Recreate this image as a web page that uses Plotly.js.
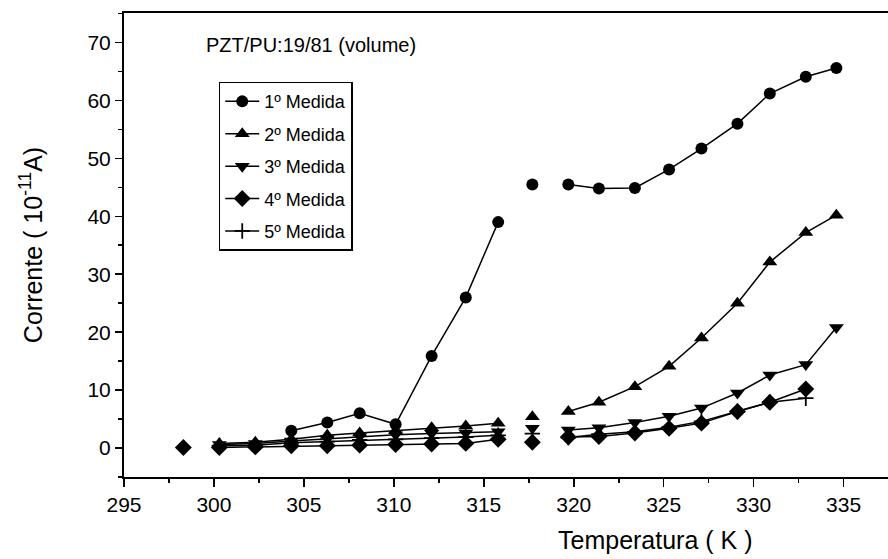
<!DOCTYPE html>
<html>
<head>
<meta charset="utf-8">
<script src="https://cdn.plot.ly/plotly-3.0.1.min.js"></script>
<style>
  html, body { margin: 0; padding: 0; background: #fff; overflow: hidden; }
  #chart { width: 888px; height: 559px; }
</style>
</head>
<body>
<div id="chart"></div>
<script>
// Temperature steps (K)
const temperatura = [298.3, 300.3, 302.3, 304.3, 306.3, 308.1, 310.1, 312.1, 314.0, 315.8,
                     317.7, 319.7, 321.4, 323.4, 325.3, 327.1, 329.1, 330.9, 332.9, 334.6];

// Current (10^-11 A) for each measurement run
const medida1 = [null, null, null, 3.0, 4.4, 6.0, 4.1, 15.9, 26.0, 39.0,
                 45.5, 45.5, 44.8, 44.9, 48.1, 51.7, 56.0, 61.2, 64.1, 65.6];
const medida2 = [null, 0.8, 1.0, 1.5, 2.2, 2.6, 3.0, 3.5, 3.8, 4.3,
                 5.4, 6.3, 7.9, 10.6, 14.1, 19.0, 25.0, 32.1, 37.2, 40.2];
const medida3 = [null, 0.6, 0.8, 1.2, 1.6, 2.0, 2.3, 2.5, 2.6, 2.8,
                 3.4, 3.1, 3.5, 4.4, 5.5, 6.9, 9.5, 12.6, 14.4, 20.8];
const medida4 = [0.1, 0.1, 0.2, 0.4, 0.4, 0.5, 0.6, 0.7, 0.8, 1.5,
                 1.0, 1.9, 2.0, 2.6, 3.4, 4.3, 6.3, 7.9, 10.2, null];
const medida5 = [null, 0.4, 0.5, 0.9, 1.1, 1.4, 1.5, 1.7, 1.9, 2.2,
                 2.5, 1.8, 2.4, 2.8, 3.6, 4.6, 6.3, 7.9, 8.6, null];

const nomes = ['1º Medida', '2º Medida', '3º Medida', '4º Medida', '5º Medida'];
const simbolos = ['circle', 'triangle-up', 'triangle-down', 'diamond', 'cross-thin'];

// Line segments are interrupted after these indices (lines not joined there)
const quebras = [[9, 10], [9, 10], [9, 10], [0, 9, 10], [9, 10]];

function segmentado(xs, ys, breaks) {
  const x = [], y = [];
  xs.forEach((v, i) => {
    x.push(v); y.push(ys[i]);
    if (breaks.includes(i)) { x.push(null); y.push(null); }
  });
  return { x, y };
}

const series = [medida1, medida2, medida3, medida4, medida5];
const traces = series.map((ys, k) => {
  const s = segmentado(temperatura, ys, quebras[k]);
  const isCross = simbolos[k] === 'cross-thin';
  return {
    type: 'scatter',
    mode: 'lines+markers',
    name: nomes[k],
    x: s.x, y: s.y,
    connectgaps: false,
    legendgroup: 'g' + k,
    line: { color: '#000', width: 1.5 },
    marker: {
      symbol: simbolos[k],
      size: isCross ? 11 : (k === 0 ? 12 : 13),
      color: '#000',
      line: { color: '#000', width: isCross ? 1.8 : 0 }
    },
    hoverinfo: 'x+y'
  };
});

const font = 'Liberation Sans, Arial, sans-serif';

const layout = {
  width: 888, height: 559,
  margin: { l: 124, r: 0, t: 13, b: 82 },
  paper_bgcolor: '#fff', plot_bgcolor: '#fff',
  showlegend: true,
  font: { family: font, color: '#000', size: 21 },
  xaxis: {
    range: [295, 337.47],
    tickmode: 'linear', tick0: 295, dtick: 5,
    ticks: 'outside', ticklen: 8, tickwidth: 1.6, tickcolor: '#000',
    minor: { dtick: 2.5, ticks: 'outside', ticklen: 4, tickwidth: 1.6, tickcolor: '#000' },
    showline: true, linecolor: '#000', linewidth: 2, mirror: true,
    showgrid: false, zeroline: false,
    tickfont: { family: font, size: 21, color: '#000' }
  },
  yaxis: {
    range: [-5, 75.1],
    tickmode: 'linear', tick0: 0, dtick: 10,
    ticks: 'outside', ticklen: 7, tickwidth: 1.6, tickcolor: '#000',
    minor: { dtick: 5, ticks: 'outside', ticklen: 4, tickwidth: 1.6, tickcolor: '#000' },
    showline: true, linecolor: '#000', linewidth: 2, mirror: false,
    showgrid: false, zeroline: false,
    tickfont: { family: font, size: 21, color: '#000' },
    title: { text: 'Corrente ( 10<sup>-11</sup>A)', font: { family: font, size: 25, color: '#000' }, standoff: 38 }
  },
  legend: {
    x: 0.124, y: 0.852, xanchor: 'left', yanchor: 'top',
    bgcolor: '#fff', bordercolor: '#000', borderwidth: 1.5,
    font: { family: 'Liberation Sans Narrow, Arial Narrow, ' + font, size: 18, color: '#000' },
    traceorder: 'grouped', tracegroupgap: 6,
    itemwidth: 34
  },
  annotations: [
    {
      text: 'PZT/PU:19/81 (volume)', xref: 'paper', yref: 'paper',
      x: (204 - 124) / 764, y: (477 - 45) / 464, xanchor: 'left', yanchor: 'middle',
      showarrow: false, font: { family: font, size: 20, color: '#000' }
    },
    {
      text: 'Temperatura ( K )', xref: 'paper', yref: 'paper',
      x: (655 - 124) / 764, y: -0.135, xanchor: 'center', yanchor: 'middle',
      showarrow: false, font: { family: font, size: 25, color: '#000' }
    }
  ]
};

Plotly.newPlot('chart', traces, layout, { displayModeBar: false, staticPlot: true });
</script>
</body>
</html>
